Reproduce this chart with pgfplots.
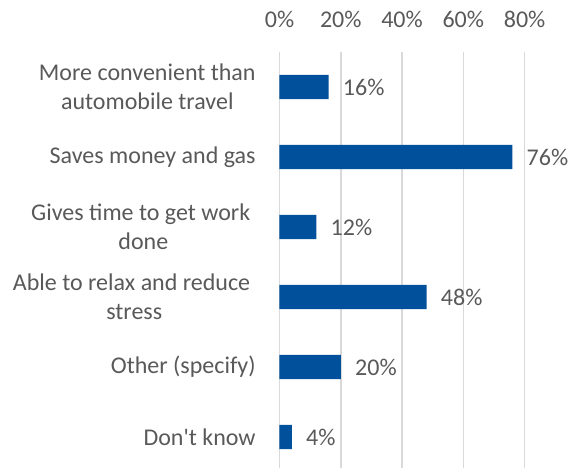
\documentclass[border=0pt]{standalone}
\usepackage{pgfplots}
\pgfplotsset{compat=1.18}
\usepackage{fontspec}
\setmainfont{Carlito}[Ligatures=TeXOff]
\definecolor{txt}{HTML}{595959}
\definecolor{barblue}{HTML}{00509B}
\definecolor{gridc}{HTML}{D9D9D9}
\begin{document}
\begin{tikzpicture}
\begin{axis}[
  at={(139.75pt,-26pt)}, anchor=north west,
  scale only axis, width=122.55pt, height=208pt,
  xbar, bar width=12.15pt,
  xmin=0, xmax=80,
  ymin=-0.5, ymax=5.443,
  y dir=reverse,
  xtick={0,20,40,60,80},
  xticklabel pos=upper,
  xticklabel={\pgfmathprintnumber{\tick}\%},
  /pgf/number format/assume math mode=true,
  ytick={0,1,2,3,4,5},
  yticklabels={{More convenient than\\automobile travel},{Saves money and gas},{Gives time to get work\hspace*{2.7pt}\\done},{Able to relax and reduce\hspace*{2.7pt}\\stress},{Other (specify)},{Don't know}},
  major tick length=0pt,
  xmajorgrids, grid style={draw=gridc, line width=0.75pt},
  axis line style={draw=none},
  font=\fontsize{12}{14.5}\selectfont\color{txt},
  xticklabel style={anchor=base, inner sep=0pt, yshift=12.25pt, text=txt},
  yticklabel style={anchor=east, align=center, inner sep=0pt, xshift=-11.75pt, text=txt},
  nodes near coords={\pgfmathprintnumber{\pgfplotspointmeta}\%},
  nodes near coords style={anchor=west, inner sep=0pt, xshift=7pt, text=txt},
  point meta=x,
]
\addplot[fill=barblue, draw=none] coordinates {(16,0) (76,1) (12,2) (48,3) (20,4) (4,5)};
\end{axis}
\pgfresetboundingbox
\useasboundingbox (0,0) rectangle (286.5pt,-234pt);
\end{tikzpicture}
\end{document}
